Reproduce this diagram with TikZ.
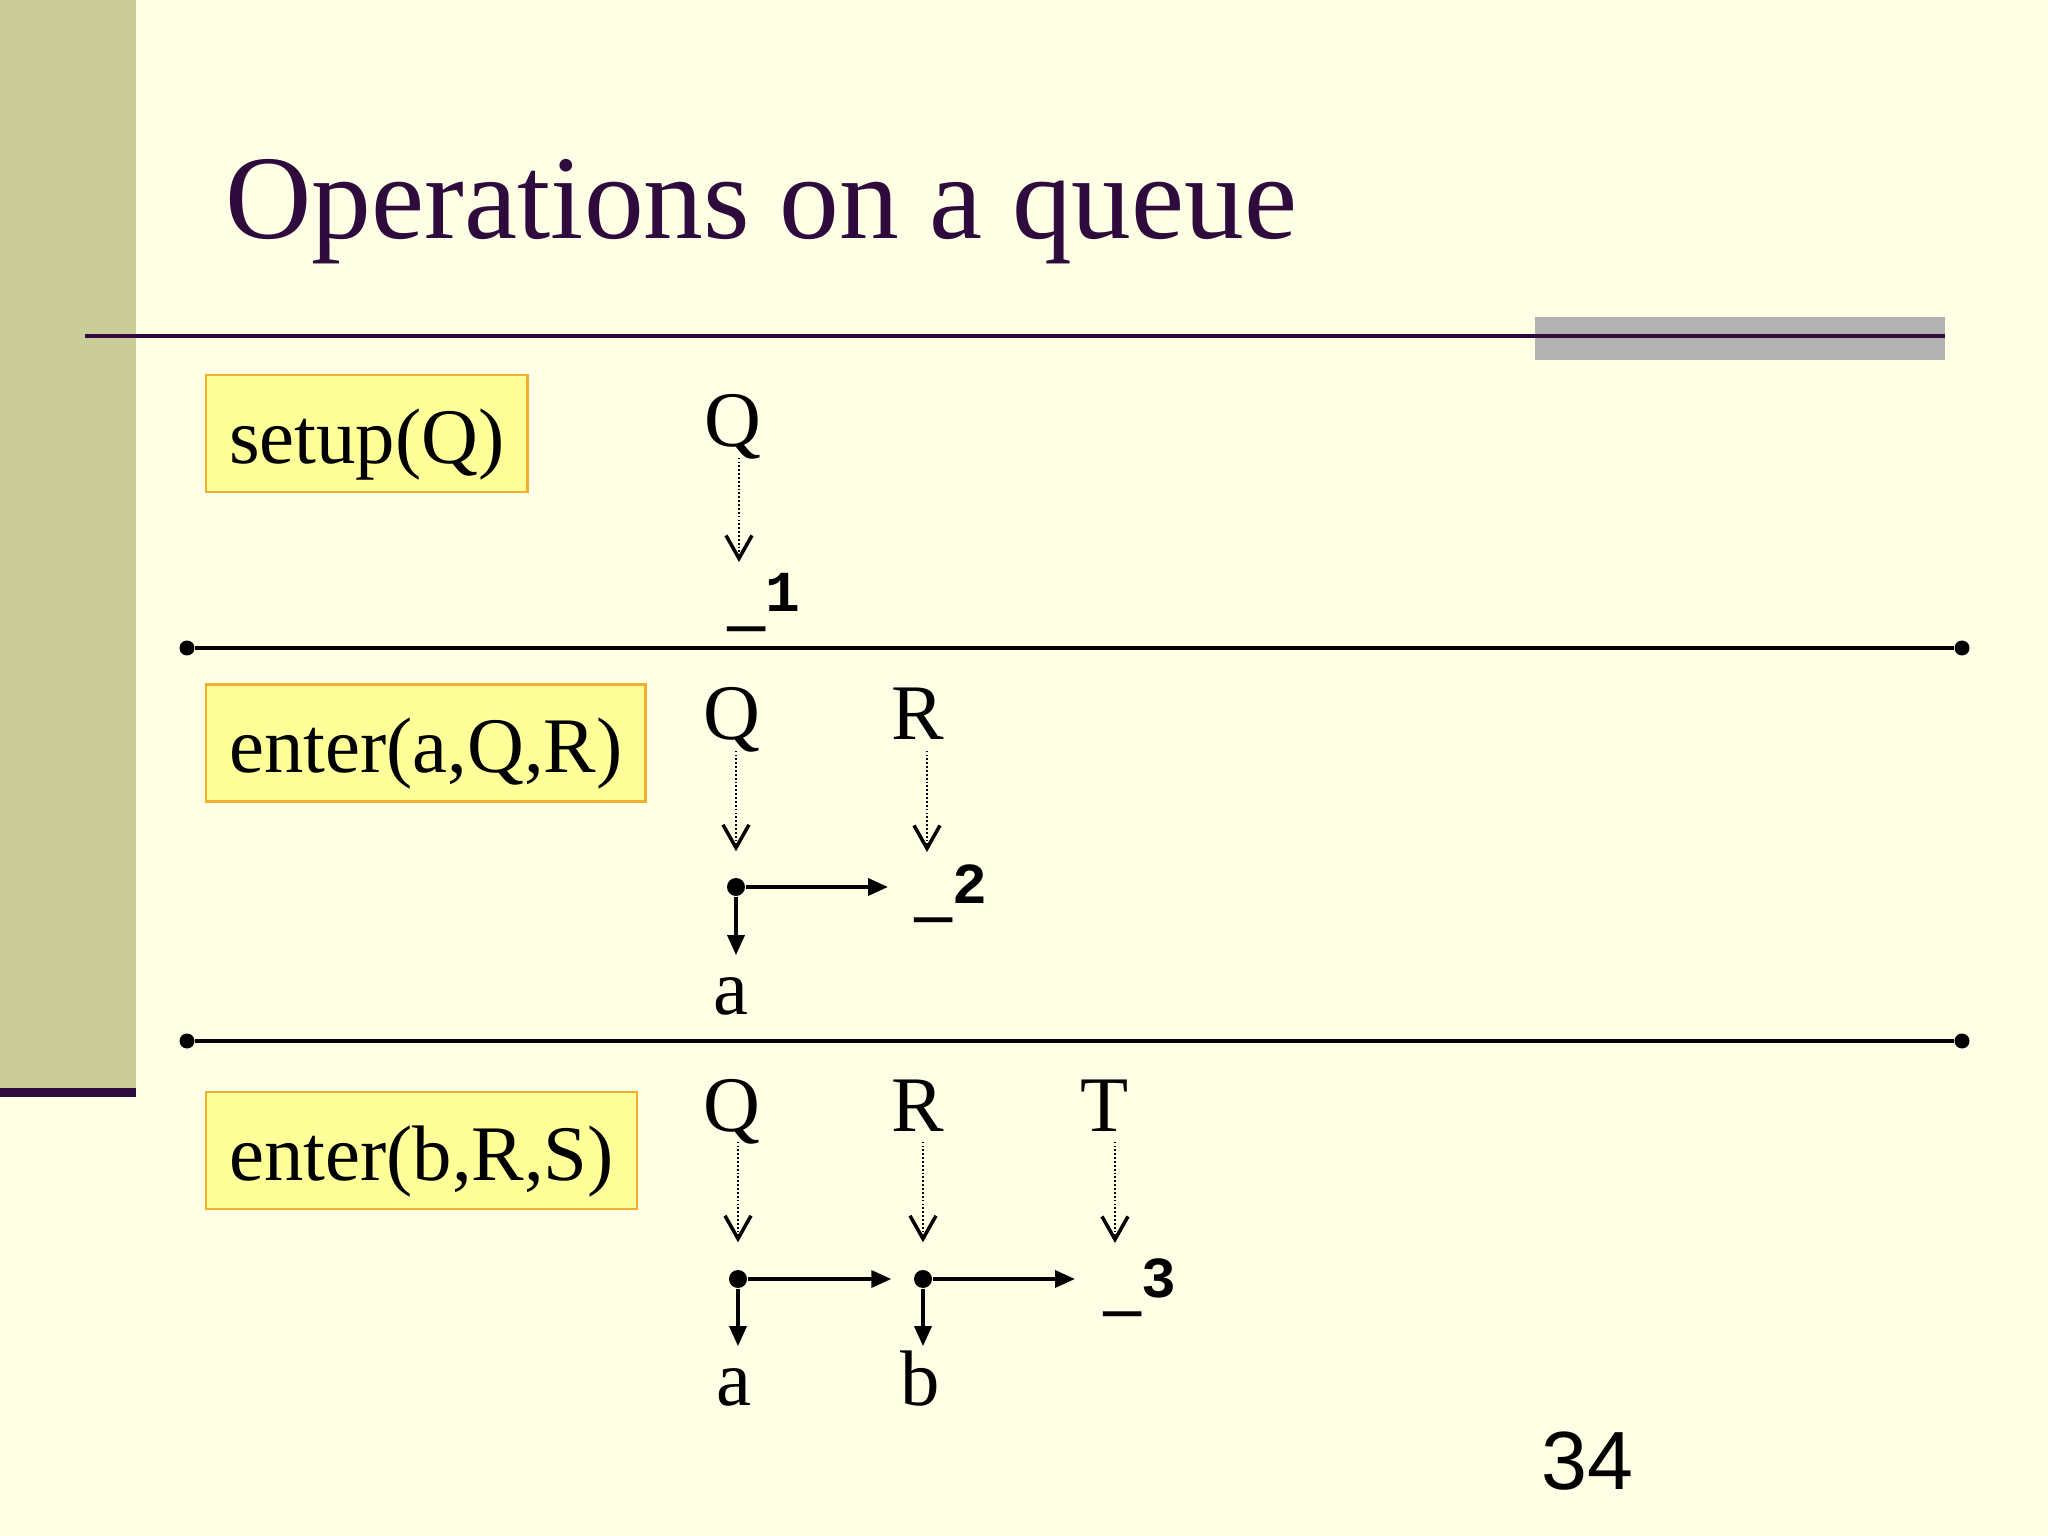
\documentclass[tikz,border=0pt]{standalone}
\usepackage{fontspec}
\setmainfont{Liberation Serif}
\newfontfamily\monofont{Liberation Mono}
\newfontfamily\numfont{Liberation Sans}
\usetikzlibrary{arrows.meta}

\definecolor{slidebg}{HTML}{FFFFE5}
\definecolor{sidebar}{HTML}{CCCC99}
\definecolor{plum}{HTML}{2F0A3C}
\definecolor{boxfill}{HTML}{FFFF99}
\definecolor{boxline}{HTML}{F2AE2E}
\definecolor{bargray}{HTML}{B2B2B2}

\newcommand{\nilmark}[1]{\raisebox{-0.14em}{\scalebox{1.1}[1.8]{\_}}#1}

\begin{document}
\begin{tikzpicture}[
    opbox/.style={
        draw=boxline,
        fill=boxfill,
        line width=0.6pt,
        anchor=west,
        inner xsep=0.23cm,
        minimum height=1.17cm,
        text height=18pt,
        text depth=1.2pt,
        font=\fontsize{22.4}{26}\selectfont},
    lbl/.style={
        inner sep=0pt,
        anchor=base,
        text height=15.7pt,
        text depth=0pt,
        font=\fontsize{22.4}{26}\selectfont},
    nil/.style={
        inner sep=0pt,
        anchor=base west,
        font=\monofont\bfseries\fontsize{16.5}{18}\selectfont},
    cell/.style={
        circle,
        fill=black,
        inner sep=0pt,
        minimum size=0.18cm},
    enddot/.style={
        circle,
        fill=black,
        inner sep=0pt,
        minimum size=0.15cm},
    sepline/.style={line width=0.9pt},
    ptr/.style={
        line width=0.75pt,
        dash pattern=on 0.5pt off 0.6pt,
        shorten <=0.1cm,
        -{Straight Barb[length=0.23cm, width=0.26cm, line width=1pt]}},
    link/.style={
        line width=1pt,
        -{Triangle[length=0.2cm, width=0.17cm]}}]

    \fill[slidebg] (0,0) rectangle (20.48,-15.36);
    \fill[sidebar] (0,0) rectangle (1.36,-10.88);
    \fill[plum] (0,-10.88) rectangle (1.36,-10.97);
    \fill[bargray] (15.35,-3.17) rectangle (19.45,-3.60);
    \draw[plum, line width=1.15pt] (0.85,-3.36) -- (19.45,-3.36);

    \node[anchor=base west, inner sep=0pt, text=plum,
        font=\fontsize{34}{40}\selectfont] (title) at (2.25,-2.39) {Operations on a queue};

    \node[enddot] (s1a) at (1.87,-6.48) {};
    \node[enddot] (s1b) at (19.62,-6.48) {};
    \draw[sepline] (s1a) -- (s1b);
    \node[enddot] (s2a) at (1.87,-10.41) {};
    \node[enddot] (s2b) at (19.62,-10.41) {};
    \draw[sepline] (s2a) -- (s2b);

    \node[opbox] (setup) at (2.05,-4.335) {setup(Q)};
    \node[opbox] (enterA) at (2.05,-7.43) {enter(a,Q,R)};
    \node[opbox] (enterB) at (2.05,-11.505) {enter(b,R,S)};

    \node[lbl] (q1) at (7.33,-4.47) {Q};
    \node[nil] (n1) at (7.27,-6.12) {\nilmark{1}};
    \coordinate (h1) at (7.39,-5.62);
    \draw[ptr] (q1.south -| h1) -- (h1);

    \node[lbl] (qA) at (7.32,-7.40) {Q};
    \node[lbl] (rA) at (9.18,-7.40) {R};
    \node[cell] (cA) at (7.36,-8.87) {};
    \node[lbl] (aA) at (7.31,-10.14) {a};
    \node[nil] (nA) at (9.14,-9.03) {\nilmark{2}};
    \coordinate (hA) at (9.27,-8.52);
    \draw[ptr, shorten >=0.26cm] (qA.south -| cA) -- (cA);
    \draw[ptr] (rA.south -| hA) -- (hA);
    \draw[link, shorten >=0.26cm] (cA) -- (cA -| nA.west);
    \draw[link, shorten >=0.03cm] (cA) -- (cA |- aA.north);

    \node[lbl] (qB) at (7.32,-11.31) {Q};
    \node[lbl] (rB) at (9.18,-11.31) {R};
    \node[lbl] (tB) at (11.05,-11.31) {T};
    \node[cell] (cB1) at (7.38,-12.79) {};
    \node[cell] (cB2) at (9.23,-12.79) {};
    \node[lbl] (aB) at (7.34,-14.05) {a};
    \node[lbl] (bB) at (9.20,-14.05) {b};
    \node[nil] (nB) at (11.03,-12.97) {\nilmark{3}};
    \coordinate (hB) at (11.15,-12.43);
    \draw[ptr, shorten >=0.27cm] (qB.south -| cB1) -- (cB1);
    \draw[ptr, shorten >=0.27cm] (rB.south -| cB2) -- (cB2);
    \draw[ptr] (tB.south -| hB) -- (hB);
    \draw[link, shorten >=0.22cm] (cB1) -- (cB2);
    \draw[link, shorten >=0.28cm] (cB2) -- (cB2 -| nB.west);
    \draw[link, shorten >=0.03cm] (cB1) -- (cB1 |- aB.north);
    \draw[link, shorten >=0.03cm] (cB2) -- (cB2 |- bB.north);

    \node[anchor=base west, inner sep=0pt,
        font=\numfont\fontsize{23.5}{28}\selectfont] (pgno) at (15.41,-14.89) {34};
\end{tikzpicture}
\end{document}
